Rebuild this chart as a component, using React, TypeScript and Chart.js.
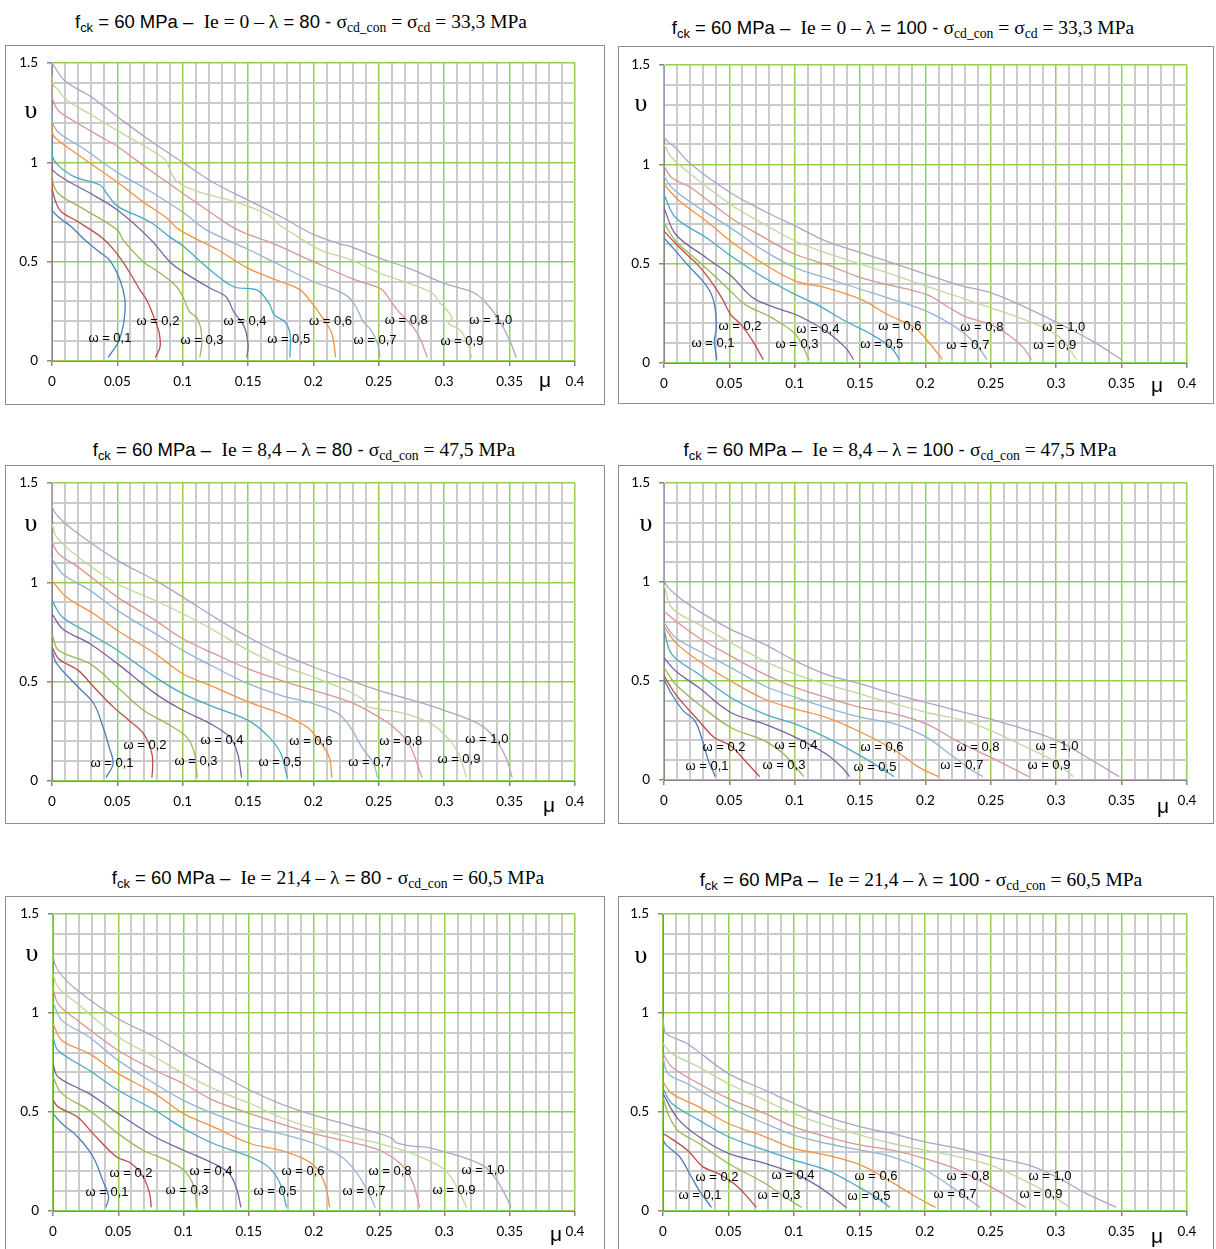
import React, { useEffect, useRef } from "react";
import { Chart, registerables } from "chart.js";

Chart.register(...registerables);

type Pt = [number, number];

// ---------- labels / ticks ----------
const OMEGA_LABELS = ["ω = 0,1", "ω = 0,2", "ω = 0,3", "ω = 0,4", "ω = 0,5", "ω = 0,6", "ω = 0,7", "ω = 0,8", "ω = 0,9", "ω = 1,0"];
const X_TICK_LABELS = ["0", "0.05", "0.1", "0.15", "0.2", "0.25", "0.3", "0.35", "0.4"];
const Y_TICK_LABELS = ["0", "0.5", "1", "1.5"];
const SERIES_COLORS = ["#4A7EBB", "#BE4B48", "#98B954", "#7D60A0", "#46AAC5", "#F69240", "#95B3D7", "#D99694", "#C3D69B", "#B3A2C7"];

const TITLE_IE = ["0", "0", "8,4", "8,4", "21,4", "21,4"];
const TITLE_LAMBDA = ["80", "100", "80", "100", "80", "100"];
const TITLE_SIGMA = ["33,3", "33,3", "47,5", "47,5", "60,5", "60,5"];
const TITLE_HAS_SCD = [true, true, false, false, false, false];

// ---------- Panel 1: Ie = 0, λ = 80 ----------
const P1_CURVES: Pt[][] = [
  [[0, 0.8], [0, 0.76], [0.006, 0.72], [0.015, 0.675], [0.025, 0.61], [0.035, 0.555], [0.044, 0.508], [0.052, 0.408], [0.0558, 0.307], [0.055, 0.2], [0.051, 0.1], [0.043, 0.018]],
  [[0, 0.92], [0, 0.87], [0.006, 0.76], [0.019, 0.705], [0.038, 0.622], [0.0494, 0.543], [0.0596, 0.443], [0.0673, 0.357], [0.0724, 0.307], [0.078, 0.22], [0.082, 0.14], [0.0826, 0.07], [0.079, 0.018]],
  [[0, 0.95], [0, 0.91], [0.005, 0.842], [0.024, 0.766], [0.05, 0.66], [0.0545, 0.609], [0.0698, 0.5], [0.0826, 0.443], [0.0953, 0.374], [0.101, 0.31], [0.105, 0.25], [0.111, 0.215], [0.114, 0.156], [0.1145, 0.08], [0.113, 0.018]],
  [[0, 1.0], [0, 0.965], [0.011, 0.91], [0.03, 0.842], [0.05, 0.76], [0.075, 0.615], [0.09, 0.5], [0.1, 0.45], [0.121, 0.366], [0.133, 0.324], [0.139, 0.248], [0.147, 0.173], [0.15, 0.08], [0.149, 0.018]],
  [[0, 1.08], [0, 1.036], [0.004, 0.99], [0.0165, 0.93], [0.037, 0.885], [0.042, 0.842], [0.05, 0.78], [0.075, 0.7], [0.09, 0.625], [0.1, 0.58], [0.121, 0.458], [0.139, 0.374], [0.157, 0.357], [0.166, 0.29], [0.17, 0.232], [0.178, 0.198], [0.182, 0.139], [0.182, 0.018]],
  [[0, 1.2], [0, 1.155], [0.003, 1.12], [0.024, 1.02], [0.05, 0.9], [0.07, 0.8], [0.0876, 0.72], [0.0975, 0.66], [0.127, 0.559], [0.15, 0.466], [0.175, 0.399], [0.19, 0.357], [0.199, 0.29], [0.208, 0.206], [0.214, 0.139], [0.217, 0.018]],
  [[0, 1.26], [0, 1.21], [0.005, 1.15], [0.024, 1.07], [0.05, 0.95], [0.075, 0.855], [0.1, 0.75], [0.118, 0.66], [0.151, 0.559], [0.169, 0.5], [0.2, 0.399], [0.22, 0.349], [0.229, 0.307], [0.235, 0.24], [0.238, 0.198], [0.244, 0.156], [0.249, 0.089], [0.251, 0.018]],
  [[0, 1.38], [0, 1.33], [0.005, 1.26], [0.019, 1.2], [0.037, 1.13], [0.05, 1.08], [0.075, 0.96], [0.1, 0.845], [0.123, 0.74], [0.142, 0.66], [0.169, 0.592], [0.2, 0.5], [0.229, 0.416], [0.251, 0.366], [0.255, 0.341], [0.264, 0.257], [0.276, 0.173], [0.282, 0.106], [0.287, 0.018]],
  [[0, 1.44], [0, 1.4], [0.004, 1.37], [0.012, 1.31], [0.03, 1.24], [0.05, 1.16], [0.075, 1.065], [0.087, 1.01], [0.091, 0.95], [0.096, 0.9], [0.113, 0.85], [0.138, 0.805], [0.164, 0.74], [0.175, 0.68], [0.187, 0.63], [0.205, 0.56], [0.229, 0.508], [0.251, 0.441], [0.273, 0.391], [0.291, 0.341], [0.296, 0.299], [0.303, 0.248], [0.306, 0.215], [0.303, 0.19], [0.312, 0.156], [0.318, 0.089], [0.321, 0.018]],
  [[0, 1.5], [0.01, 1.41], [0.03, 1.33], [0.05, 1.23], [0.075, 1.11], [0.1, 1.0], [0.123, 0.9], [0.15, 0.81], [0.176, 0.724], [0.199, 0.64], [0.22, 0.59], [0.229, 0.575], [0.251, 0.517], [0.273, 0.466], [0.3, 0.391], [0.321, 0.349], [0.33, 0.307], [0.342, 0.206], [0.351, 0.089], [0.355, 0.018]],
];
const P1_LABEL_POS: Pt[] = [[0.0443, 0.116], [0.081, 0.201], [0.1147, 0.106], [0.1476, 0.201], [0.181, 0.111], [0.213, 0.201], [0.247, 0.106], [0.271, 0.206], [0.3135, 0.101], [0.3356, 0.206]];

// ---------- Panel 2: Ie = 0, λ = 100 ----------
const P2_CURVES: Pt[][] = [
  [[0, 0.63], [0.009, 0.563], [0.02, 0.48], [0.03, 0.41], [0.036, 0.35], [0.039, 0.28], [0.04, 0.176], [0.0385, 0.109], [0.0405, 0.017]],
  [[0, 0.664], [0.012, 0.58], [0.025, 0.5], [0.035, 0.42], [0.044, 0.33], [0.051, 0.244], [0.059, 0.193], [0.068, 0.109], [0.0759, 0.017]],
  [[0, 0.706], [0.009, 0.613], [0.025, 0.52], [0.04, 0.43], [0.051, 0.361], [0.062, 0.294], [0.0827, 0.227], [0.1007, 0.143], [0.111, 0.017]],
  [[0, 0.781], [0.009, 0.647], [0.0325, 0.529], [0.051, 0.44], [0.068, 0.328], [0.0856, 0.277], [0.1007, 0.244], [0.124, 0.16], [0.139, 0.076], [0.145, 0.017]],
  [[0, 0.848], [0.009, 0.731], [0.0325, 0.63], [0.051, 0.54], [0.077, 0.428], [0.1007, 0.344], [0.118, 0.29], [0.139, 0.21], [0.159, 0.143], [0.174, 0.076], [0.18, 0.017]],
  [[0, 0.899], [0.0118, 0.815], [0.0325, 0.714], [0.051, 0.613], [0.077, 0.496], [0.1007, 0.412], [0.124, 0.378], [0.151, 0.319], [0.171, 0.244], [0.192, 0.176], [0.204, 0.092], [0.213, 0.017]],
  [[0, 0.941], [0.006, 0.882], [0.0266, 0.781], [0.051, 0.68], [0.077, 0.563], [0.1007, 0.479], [0.124, 0.428], [0.151, 0.37], [0.171, 0.328], [0.201, 0.26], [0.224, 0.176], [0.239, 0.092], [0.247, 0.017]],
  [[0, 0.991], [0.006, 0.932], [0.0207, 0.882], [0.051, 0.731], [0.077, 0.63], [0.1007, 0.546], [0.124, 0.496], [0.151, 0.428], [0.171, 0.395], [0.201, 0.344], [0.2186, 0.277], [0.23, 0.235], [0.25, 0.193], [0.263, 0.143], [0.275, 0.076], [0.281, 0.017]],
  [[0, 1.1], [0.006, 1.033], [0.0207, 0.949], [0.051, 0.798], [0.077, 0.697], [0.1007, 0.613], [0.124, 0.554], [0.151, 0.496], [0.171, 0.454], [0.201, 0.386], [0.224, 0.336], [0.25, 0.277], [0.272, 0.227], [0.3, 0.143], [0.316, 0.017]],
  [[0, 1.5], [0, 1.142], [0.0089, 1.083], [0.0207, 1.0], [0.0508, 0.857], [0.0768, 0.764], [0.1007, 0.689], [0.124, 0.613], [0.151, 0.554], [0.171, 0.512], [0.201, 0.445], [0.224, 0.395], [0.25, 0.353], [0.272, 0.294], [0.301, 0.202], [0.328, 0.109], [0.35, 0.017]],
];
const P2_LABEL_POS: Pt[] = [[0.0375, 0.101], [0.0581, 0.186], [0.1017, 0.096], [0.1177, 0.171], [0.1666, 0.091], [0.1804, 0.186], [0.2324, 0.086], [0.2431, 0.181], [0.2989, 0.086], [0.3058, 0.181]];

// ---------- Panel 3: Ie = 8,4, λ = 80 ----------
const P3_CURVES: Pt[][] = [
  [[0, 0.658], [0.0036, 0.591], [0.02, 0.473], [0.032, 0.389], [0.039, 0.272], [0.0437, 0.171], [0.0467, 0.087], [0.0413, 0.017]],
  [[0, 0.674], [0.005, 0.616], [0.02, 0.557], [0.032, 0.473], [0.047, 0.372], [0.059, 0.305], [0.07, 0.238], [0.0764, 0.138], [0.077, 0.07], [0.0764, 0.017]],
  [[0, 0.742], [0.005, 0.658], [0.029, 0.591], [0.05, 0.473], [0.07, 0.356], [0.088, 0.289], [0.103, 0.221], [0.109, 0.138], [0.111, 0.017]],
  [[0, 0.842], [0.008, 0.767], [0.029, 0.691], [0.05, 0.591], [0.079, 0.44], [0.1, 0.356], [0.121, 0.289], [0.136, 0.221], [0.142, 0.138], [0.145, 0.017]],
  [[0, 0.909], [0.008, 0.826], [0.029, 0.742], [0.05, 0.658], [0.079, 0.523], [0.1, 0.44], [0.124, 0.372], [0.15, 0.305], [0.166, 0.221], [0.175, 0.138], [0.18, 0.017]],
  [[0, 1.01], [0.011, 0.926], [0.032, 0.842], [0.05, 0.758], [0.079, 0.641], [0.1, 0.54], [0.124, 0.473], [0.15, 0.398], [0.175, 0.339], [0.195, 0.272], [0.204, 0.205], [0.212, 0.121], [0.214, 0.017]],
  [[0, 1.119], [0.008, 1.044], [0.029, 0.96], [0.05, 0.859], [0.079, 0.742], [0.1, 0.658], [0.124, 0.574], [0.15, 0.49], [0.175, 0.431], [0.2, 0.389], [0.219, 0.339], [0.228, 0.272], [0.237, 0.171], [0.246, 0.087], [0.249, 0.017]],
  [[0, 1.203], [0.005, 1.144], [0.02, 1.077], [0.05, 0.926], [0.079, 0.809], [0.1, 0.716], [0.124, 0.641], [0.15, 0.565], [0.175, 0.507], [0.2, 0.456], [0.228, 0.398], [0.25, 0.322], [0.261, 0.272], [0.273, 0.188], [0.283, 0.017]],
  [[0, 1.295], [0.0036, 1.228], [0.02, 1.128], [0.05, 0.993], [0.079, 0.909], [0.1, 0.842], [0.124, 0.758], [0.15, 0.658], [0.175, 0.582], [0.2, 0.523], [0.228, 0.448], [0.24, 0.4], [0.2415, 0.375], [0.25, 0.362], [0.27, 0.339], [0.29, 0.289], [0.302, 0.221], [0.311, 0.138], [0.317, 0.017]],
  [[0, 1.5], [0, 1.388], [0.005, 1.329], [0.02, 1.245], [0.05, 1.111], [0.079, 1.01], [0.1, 0.926], [0.124, 0.826], [0.15, 0.725], [0.175, 0.641], [0.2, 0.574], [0.228, 0.507], [0.25, 0.456], [0.276, 0.406], [0.3, 0.356], [0.326, 0.289], [0.338, 0.221], [0.347, 0.121], [0.352, 0.017]],
];
const P3_LABEL_POS: Pt[] = [[0.0459, 0.0906], [0.0711, 0.181], [0.1101, 0.101], [0.13, 0.206], [0.1743, 0.0956], [0.198, 0.201], [0.2431, 0.0956], [0.2667, 0.201], [0.3112, 0.111], [0.3326, 0.211]];

// ---------- Panel 4: Ie = 8,4, λ = 100 ----------
const P4_CURVES: Pt[][] = [
  [[0, 0.509], [0.006, 0.433], [0.0148, 0.349], [0.0236, 0.299], [0.0295, 0.198], [0.034, 0.097], [0.0393, 0.017]],
  [[0, 0.526], [0.0089, 0.433], [0.0266, 0.299], [0.0384, 0.215], [0.051, 0.173], [0.062, 0.097], [0.0732, 0.017]],
  [[0, 0.568], [0.0089, 0.484], [0.0266, 0.383], [0.051, 0.265], [0.077, 0.198], [0.0916, 0.131], [0.107, 0.017]],
  [[0, 0.618], [0.0089, 0.551], [0.0266, 0.467], [0.051, 0.341], [0.077, 0.282], [0.1007, 0.215], [0.124, 0.131], [0.136, 0.064], [0.142, 0.017]],
  [[0, 0.761], [0.006, 0.635], [0.0266, 0.534], [0.051, 0.417], [0.077, 0.333], [0.1007, 0.282], [0.124, 0.215], [0.148, 0.131], [0.165, 0.064], [0.176, 0.017]],
  [[0, 0.778], [0.0089, 0.694], [0.0266, 0.601], [0.051, 0.5], [0.077, 0.408], [0.1007, 0.358], [0.124, 0.316], [0.151, 0.24], [0.177, 0.148], [0.195, 0.064], [0.21, 0.017]],
  [[0, 0.795], [0.0089, 0.719], [0.0266, 0.652], [0.051, 0.568], [0.077, 0.475], [0.1007, 0.417], [0.124, 0.366], [0.151, 0.316], [0.177, 0.282], [0.201, 0.215], [0.2186, 0.131], [0.236, 0.047], [0.244, 0.017]],
  [[0, 0.853], [0.0089, 0.803], [0.0266, 0.719], [0.051, 0.627], [0.077, 0.534], [0.1007, 0.467], [0.124, 0.417], [0.151, 0.366], [0.177, 0.333], [0.201, 0.282], [0.224, 0.198], [0.25, 0.114], [0.279, 0.017]],
  [[0, 0.988], [0.006, 0.87], [0.0266, 0.786], [0.051, 0.694], [0.077, 0.601], [0.1007, 0.534], [0.124, 0.484], [0.151, 0.433], [0.177, 0.383], [0.201, 0.341], [0.23, 0.299], [0.25, 0.249], [0.272, 0.181], [0.298, 0.097], [0.313, 0.017]],
  [[0, 1.5], [0, 1.013], [0.0089, 0.937], [0.0266, 0.853], [0.051, 0.761], [0.077, 0.685], [0.1007, 0.601], [0.124, 0.534], [0.151, 0.484], [0.177, 0.433], [0.201, 0.391], [0.23, 0.341], [0.25, 0.307], [0.272, 0.265], [0.301, 0.198], [0.328, 0.097], [0.348, 0.017]],
];
const P4_LABEL_POS: Pt[] = [[0.0329, 0.0705], [0.0459, 0.166], [0.0917, 0.0755], [0.101, 0.176], [0.1613, 0.0654], [0.1667, 0.166], [0.2278, 0.0755], [0.2401, 0.166], [0.2944, 0.0755], [0.3005, 0.171]];

// ---------- Panel 5: Ie = 21,4, λ = 80 ----------
const P5_CURVES: Pt[][] = [
  [[0, 0.492], [0.0068, 0.442], [0.0188, 0.375], [0.0307, 0.274], [0.038, 0.156], [0.0426, 0.072], [0.0405, 0.018]],
  [[0, 0.56], [0.0039, 0.526], [0.0188, 0.475], [0.0307, 0.391], [0.0485, 0.274], [0.06, 0.24], [0.069, 0.173], [0.074, 0.089], [0.0753, 0.018]],
  [[0, 0.677], [0.0068, 0.593], [0.0277, 0.509], [0.05, 0.391], [0.069, 0.307], [0.087, 0.257], [0.1, 0.207], [0.108, 0.123], [0.11, 0.018]],
  [[0, 0.744], [0.0039, 0.677], [0.0277, 0.593], [0.05, 0.492], [0.078, 0.375], [0.1, 0.307], [0.123, 0.24], [0.135, 0.19], [0.141, 0.106], [0.144, 0.018]],
  [[0, 0.879], [0.0039, 0.811], [0.0277, 0.711], [0.05, 0.61], [0.078, 0.509], [0.1, 0.417], [0.123, 0.341], [0.151, 0.274], [0.165, 0.223], [0.174, 0.139], [0.179, 0.018]],
  [[0, 0.946], [0.0068, 0.862], [0.0277, 0.795], [0.05, 0.694], [0.078, 0.593], [0.1, 0.492], [0.123, 0.425], [0.151, 0.341], [0.174, 0.307], [0.194, 0.257], [0.203, 0.207], [0.209, 0.123], [0.212, 0.018]],
  [[0, 1.055], [0.0068, 0.963], [0.0277, 0.879], [0.05, 0.761], [0.078, 0.643], [0.1, 0.559], [0.123, 0.492], [0.151, 0.425], [0.174, 0.391], [0.2, 0.341], [0.221, 0.274], [0.233, 0.19], [0.242, 0.089], [0.247, 0.018]],
  [[0, 1.13], [0.0039, 1.047], [0.0188, 0.963], [0.05, 0.811], [0.078, 0.711], [0.1, 0.643], [0.123, 0.559], [0.151, 0.492], [0.174, 0.442], [0.2, 0.391], [0.227, 0.349], [0.25, 0.307], [0.266, 0.24], [0.275, 0.156], [0.281, 0.018]],
  [[0, 1.198], [0.0039, 1.131], [0.0188, 1.047], [0.05, 0.879], [0.078, 0.778], [0.1, 0.694], [0.123, 0.618], [0.151, 0.543], [0.174, 0.475], [0.2, 0.417], [0.227, 0.375], [0.25, 0.341], [0.275, 0.291], [0.299, 0.215], [0.308, 0.139], [0.317, 0.018]],
  [[0, 1.5], [0, 1.298], [0.0039, 1.215], [0.0188, 1.114], [0.05, 0.971], [0.078, 0.879], [0.1, 0.795], [0.123, 0.711], [0.151, 0.61], [0.174, 0.543], [0.2, 0.484], [0.227, 0.433], [0.25, 0.391], [0.26, 0.366], [0.263, 0.345], [0.275, 0.328], [0.287, 0.322], [0.3, 0.299], [0.317, 0.265], [0.331, 0.223], [0.34, 0.156], [0.346, 0.089], [0.351, 0.018]],
];
const P5_LABEL_POS: Pt[] = [[0.0414, 0.0956], [0.0598, 0.191], [0.1027, 0.106], [0.1211, 0.201], [0.1701, 0.101], [0.1916, 0.201], [0.2383, 0.101], [0.2582, 0.201], [0.3073, 0.106], [0.3295, 0.206]];

// ---------- Panel 6: Ie = 21,4, λ = 100 ----------
const P6_CURVES: Pt[][] = [
  [[0, 0.358], [0.0024, 0.333], [0.0127, 0.274], [0.0216, 0.173], [0.0275, 0.106], [0.037, 0.018]],
  [[0, 0.42], [0, 0.39], [0.0024, 0.383], [0.0186, 0.307], [0.0305, 0.223], [0.042, 0.19], [0.057, 0.123], [0.0713, 0.018]],
  [[0, 0.576], [0.0038, 0.492], [0.0112, 0.408], [0.0275, 0.341], [0.05, 0.24], [0.078, 0.139], [0.0926, 0.072], [0.106, 0.018]],
  [[0, 0.593], [0.0112, 0.467], [0.0275, 0.375], [0.05, 0.291], [0.078, 0.24], [0.1, 0.19], [0.119, 0.123], [0.14, 0.018]],
  [[0, 0.618], [0.0068, 0.543], [0.0275, 0.459], [0.05, 0.375], [0.078, 0.307], [0.1, 0.257], [0.125, 0.207], [0.149, 0.123], [0.166, 0.055], [0.173, 0.018]],
  [[0, 0.652], [0.0068, 0.593], [0.0275, 0.526], [0.05, 0.442], [0.078, 0.375], [0.1, 0.316], [0.125, 0.282], [0.151, 0.232], [0.172, 0.156], [0.193, 0.072], [0.208, 0.018]],
  [[0, 0.778], [0.0038, 0.694], [0.0186, 0.643], [0.05, 0.526], [0.078, 0.442], [0.1, 0.383], [0.125, 0.341], [0.151, 0.307], [0.175, 0.274], [0.2, 0.207], [0.22, 0.123], [0.242, 0.018]],
  [[0, 0.795], [0.0068, 0.727], [0.0275, 0.643], [0.05, 0.568], [0.078, 0.492], [0.1, 0.425], [0.125, 0.375], [0.151, 0.333], [0.175, 0.307], [0.2, 0.265], [0.2256, 0.207], [0.25, 0.123], [0.277, 0.018]],
  [[0, 0.845], [0.0068, 0.795], [0.0275, 0.727], [0.05, 0.643], [0.078, 0.559], [0.1, 0.492], [0.125, 0.433], [0.151, 0.383], [0.175, 0.341], [0.2, 0.307], [0.2256, 0.274], [0.25, 0.232], [0.27, 0.173], [0.29, 0.106], [0.311, 0.018]],
  [[0, 0.98], [0.002, 0.9], [0.0186, 0.845], [0.05, 0.694], [0.078, 0.61], [0.1, 0.543], [0.125, 0.475], [0.151, 0.425], [0.175, 0.391], [0.2, 0.349], [0.2256, 0.316], [0.25, 0.274], [0.279, 0.232], [0.3, 0.173], [0.323, 0.089], [0.346, 0.018]],
];
const P6_LABEL_POS: Pt[] = [[0.0282, 0.0805], [0.0412, 0.171], [0.0885, 0.0805], [0.0992, 0.181], [0.1573, 0.0755], [0.1626, 0.176], [0.2229, 0.0856], [0.2328, 0.176], [0.2885, 0.0856], [0.2954, 0.176]];

const PANEL_CURVES = [P1_CURVES, P2_CURVES, P3_CURVES, P4_CURVES, P5_CURVES, P6_CURVES];
const PANEL_LABEL_POS = [P1_LABEL_POS, P2_LABEL_POS, P3_LABEL_POS, P4_LABEL_POS, P5_LABEL_POS, P6_LABEL_POS];

// ---------- layout (page pixels) ----------
const LAYOUT = [
  { box: [5, 45, 600, 360], plot: [52, 63, 575, 361], title: [301, 22], ups: [31, 110], mu: [545, 379] },
  { box: [618, 46, 596, 358], plot: [664, 65, 1187, 363], title: [903, 28], ups: [641, 103], mu: [1157, 384] },
  { box: [5, 465, 600, 359], plot: [52, 483, 575, 781], title: [304, 450], ups: [31, 523], mu: [549, 804] },
  { box: [618, 465, 596, 359], plot: [664, 482, 1187, 780], title: [900, 450], ups: [646, 523], mu: [1163, 805] },
  { box: [5, 896, 600, 360], plot: [53, 913, 575, 1211], title: [328, 878], ups: [32, 953], mu: [556, 1233] },
  { box: [618, 896, 596, 360], plot: [663, 913, 1187, 1211], title: [921, 880], ups: [641, 955], mu: [1157, 1235] },
];

const GREEN = "#92D050";
const GRAY = "#CBCBCB";
const AXIS = "#868686";

const isMult = (v: number, step: number) => Math.abs(v / step - Math.round(v / step)) < 1e-6;

function makeLabelPlugin(pos: Pt[]) {
  return {
    id: "omegaLabels",
    afterDatasetsDraw(chart: any) {
      const { ctx, scales } = chart;
      const xs = scales.x, ys = scales.y;
      ctx.save();
      ctx.font = '13px "Liberation Sans", Arial, sans-serif';
      ctx.fillStyle = "#000";
      ctx.textAlign = "center";
      ctx.textBaseline = "middle";
      pos.forEach((p, i) => {
        ctx.fillText(OMEGA_LABELS[i], xs.getPixelForValue(p[0]), ys.getPixelForValue(p[1]));
      });
      ctx.restore();
    },
  };
}

function Panel({ idx }: { idx: number }) {
  const ref = useRef<HTMLCanvasElement>(null);
  const L = LAYOUT[idx];
  const cx = L.box[0] + 1, cy = L.box[1] + 1, cw = L.box[2] - 2, ch = L.box[3] - 2;

  useEffect(() => {
    const curves = PANEL_CURVES[idx];
    const chart = new Chart(ref.current as HTMLCanvasElement, {
      type: "scatter",
      data: {
        datasets: curves.map((c, i) => ({
          label: OMEGA_LABELS[i],
          data: c.map(([x, y]) => ({ x, y })),
          showLine: true,
          borderColor: SERIES_COLORS[i],
          backgroundColor: SERIES_COLORS[i],
          borderWidth: 1.3,
          pointRadius: 0,
          pointHoverRadius: 0,
          tension: 0.35,
          fill: false,
        })),
      },
      options: {
        responsive: false,
        animation: false,
        events: [],
        layout: { padding: { left: 0, top: L.plot[1] - cy, right: cx + cw - L.plot[2], bottom: 0 } },
        plugins: { legend: { display: false }, tooltip: { enabled: false } },
        scales: {
          x: {
            type: "linear",
            min: 0,
            max: 0.4,
            afterFit: (s: any) => { s.height = cy + ch - L.plot[3]; },
            ticks: {
              stepSize: 0.01,
              maxTicksLimit: 100,
              autoSkip: false,
              maxRotation: 0,
              minRotation: 0,
              padding: 8,
              color: "#000",
              font: { family: "Lato, 'Liberation Sans', sans-serif", size: 13.5 },
              callback: (v: any) => {
                const n = Number(v);
                return isMult(n, 0.05) ? X_TICK_LABELS[Math.round(n / 0.05)] : "";
              },
            },
            grid: {
              color: (c: any) => (isMult(c.tick.value, 0.05) ? GREEN : GRAY),
              lineWidth: (c: any) => (isMult(c.tick.value, 0.05) ? 1.5 : 2),
              tickLength: 5,
              tickColor: (c: any) => (isMult(c.tick.value, 0.05) ? AXIS : "rgba(0,0,0,0)"),
            },
            border: { color: AXIS, width: 1 },
          },
          y: {
            type: "linear",
            min: 0,
            max: 1.5,
            afterFit: (s: any) => { s.width = L.plot[0] - cx; },
            ticks: {
              stepSize: 0.1,
              maxTicksLimit: 100,
              autoSkip: false,
              padding: 9,
              color: "#000",
              font: { family: "Lato, 'Liberation Sans', sans-serif", size: 13.5 },
              callback: (v: any) => {
                const n = Number(v);
                return isMult(n, 0.5) ? Y_TICK_LABELS[Math.round(n / 0.5)] : "";
              },
            },
            grid: {
              color: (c: any) => (isMult(c.tick.value, 0.5) ? GREEN : GRAY),
              lineWidth: (c: any) => (isMult(c.tick.value, 0.5) ? 1.5 : 2),
              tickLength: 5,
              tickColor: (c: any) => (isMult(c.tick.value, 0.5) ? AXIS : "rgba(0,0,0,0)"),
            },
            border: { color: AXIS, width: 1 },
          },
        },
      } as any,
      plugins: [makeLabelPlugin(PANEL_LABEL_POS[idx])],
    });
    return () => chart.destroy();
  }, [idx]);

  const sans = { fontFamily: "'Liberation Sans', Arial, sans-serif", fontSize: 18.5 };
  const serif = { fontFamily: "'Liberation Serif', 'Times New Roman', serif", fontSize: 19.5 };
  const sub = { fontSize: "0.7em", position: "relative" as const, top: "0.3em" };

  return (
    <>
      <div style={{ position: "absolute", left: L.box[0], top: L.box[1], width: L.box[2], height: L.box[3], border: "1px solid #8C8C8C", boxSizing: "border-box", background: "#fff" }} />
      <canvas ref={ref} width={cw} height={ch} style={{ position: "absolute", left: cx, top: cy, width: cw, height: ch }} />
      <div style={{ position: "absolute", left: L.title[0], top: L.title[1], transform: "translate(-50%, -50%)", whiteSpace: "nowrap", lineHeight: 1, color: "#000" }}>
        <span style={sans}>f<span style={sub}>ck</span> = 60 MPa –&nbsp; </span>
        <span style={serif}>Ie = {TITLE_IE[idx]} – λ</span>
        <span style={sans}> = {TITLE_LAMBDA[idx]} - </span>
        <span style={serif}>
          σ<span style={sub}>cd_con</span> = {TITLE_HAS_SCD[idx] ? <>σ<span style={sub}>cd</span> = </> : null}{TITLE_SIGMA[idx]} MPa
        </span>
      </div>
      <span style={{ position: "absolute", left: L.ups[0], top: L.ups[1], transform: "translate(-50%, -50%)", fontFamily: "'Liberation Serif', serif", fontSize: 26, lineHeight: 1, color: "#000" }}>υ</span>
      <span style={{ position: "absolute", left: L.mu[0], top: L.mu[1], transform: "translate(-50%, -50%)", fontFamily: "'Liberation Sans', sans-serif", fontSize: 21, lineHeight: 1, color: "#000" }}>μ</span>
    </>
  );
}

export default function App() {
  return (
    <div style={{ position: "absolute", left: 0, top: 0, width: 1216, height: 1249, overflow: "hidden", background: "#fff" }}>
      {LAYOUT.map((_, i) => (
        <Panel key={i} idx={i} />
      ))}
    </div>
  );
}
